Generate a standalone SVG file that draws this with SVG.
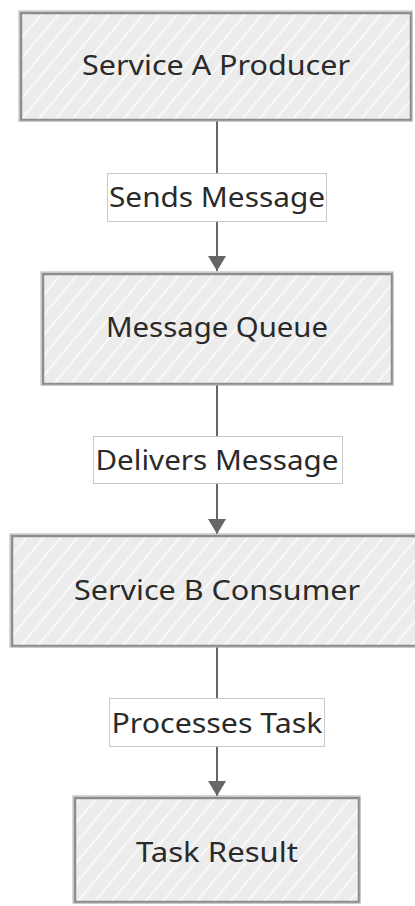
<svg xmlns="http://www.w3.org/2000/svg" width="415" height="906" viewBox="0 0 415 906">
  <style>
    .box { fill: url(#hatch); stroke: #8c8c8c; stroke-width: 2.5; }
    .box2 { fill: none; stroke: #b0b0b0; stroke-width: 1; }
    .node-text { font-family: "Noto Sans", "Open Sans", sans-serif; font-size: 27px; fill: #2a2a2a; text-anchor: middle; }
    .edge { stroke: #666; stroke-width: 2; fill: none; }
    .label-bg { fill: #fff; stroke: #c8c8c8; stroke-width: 1; }
    .label-text { font-family: "Noto Sans", "Open Sans", sans-serif; font-size: 27px; fill: #2a2a2a; text-anchor: middle; }
  </style>
  <defs>
    <pattern id="hatch" width="13" height="13" patternUnits="userSpaceOnUse" patternTransform="rotate(40)">
      <rect width="13" height="13" fill="#ececec"/>
      <line x1="2" y1="0" x2="2" y2="13" stroke="#ffffff" stroke-width="1.4"/>
    </pattern>
    <marker id="arrow" markerWidth="18" markerHeight="16" refX="9" refY="15" orient="0" markerUnits="userSpaceOnUse">
      <path d="M0,0 L18,0 L9,15 Z" fill="#666"/>
    </marker>
  </defs>

  <rect width="415" height="906" fill="#fff"/>

  <!-- connectors -->
  <g id="edges">
    <g id="edge-1">
      <line class="edge" x1="217" y1="120" x2="217" y2="271" marker-end="url(#arrow)"/>
      <rect class="label-bg" x="107.5" y="173.5" width="219" height="48"/>
      <text class="label-text" x="217" y="207" textLength="216" lengthAdjust="spacingAndGlyphs">Sends Message</text>
    </g>
    <g id="edge-2">
      <line class="edge" x1="217" y1="385" x2="217" y2="534" marker-end="url(#arrow)"/>
      <rect class="label-bg" x="93.5" y="436.5" width="249" height="47"/>
      <text class="label-text" x="217" y="470" textLength="243" lengthAdjust="spacingAndGlyphs">Delivers Message</text>
    </g>
    <g id="edge-3">
      <line class="edge" x1="217" y1="647" x2="217" y2="796" marker-end="url(#arrow)"/>
      <rect class="label-bg" x="109.5" y="698.5" width="215" height="48"/>
      <text class="label-text" x="217" y="733" textLength="211" lengthAdjust="spacingAndGlyphs">Processes Task</text>
    </g>
  </g>

  <!-- nodes -->
  <g id="service-a-producer">
    <rect class="box" x="21" y="13" width="390" height="107"/>
    <rect class="box2" x="19" y="11" width="393" height="110"/>
    <text class="node-text" x="216" y="75" textLength="268" lengthAdjust="spacingAndGlyphs">Service A Producer</text>
  </g>

  <g id="message-queue">
    <rect class="box" x="43" y="274" width="349" height="110"/>
    <rect class="box2" x="41" y="272" width="352" height="113"/>
    <text class="node-text" x="217" y="337" textLength="222" lengthAdjust="spacingAndGlyphs">Message Queue</text>
  </g>

  <g id="service-b-consumer">
    <rect class="box" x="12" y="536" width="410" height="110"/>
    <rect class="box2" x="10" y="534" width="414" height="113"/>
    <text class="node-text" x="217" y="600" textLength="286" lengthAdjust="spacingAndGlyphs">Service B Consumer</text>
  </g>

  <g id="task-result">
    <rect class="box" x="75" y="798" width="284" height="104"/>
    <rect class="box2" x="73" y="796" width="287" height="107"/>
    <text class="node-text" x="217" y="862" textLength="162" lengthAdjust="spacingAndGlyphs">Task Result</text>
  </g>
</svg>
